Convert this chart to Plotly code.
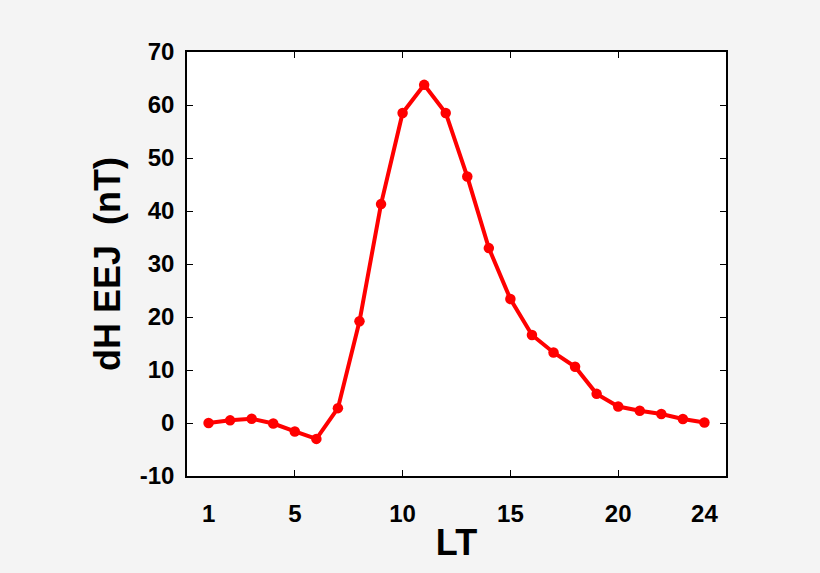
import plotly.graph_objects as go

# local time (hours) and EEJ strength dH (nT)
lt = list(range(1, 25))
dh = [0.0, 0.5, 0.8, -0.1, -1.6, -3.0, 2.8, 19.2, 41.3, 58.5, 63.8, 58.5,
      46.5, 33.0, 23.4, 16.6, 13.3, 10.6, 5.5, 3.1, 2.3, 1.7, 0.75, 0.1]

x_tickvals = [1, 5, 10, 15, 20, 24]
x_tickmarks = [5, 10, 15, 20]
y_tickvals = [-10, 0, 10, 20, 30, 40, 50, 60, 70]
y_ticktext = ["-10", "0", "10", "20", "30", "40", "50", "60", "70"]

font_family = "Liberation Sans, Arial, sans-serif"

fig = go.Figure()
fig.add_trace(go.Scatter(
    x=lt, y=dh, mode="lines+markers",
    line=dict(color="#ff0000", width=4),
    marker=dict(color="#ff0000", size=10.5),
))

fig.update_layout(
    width=820, height=573,
    paper_bgcolor="#f4f4f4",
    plot_bgcolor="white",
    showlegend=False,
    margin=dict(l=187, r=94, t=52, b=97),
    font=dict(family=font_family, color="black"),
)
fig.update_xaxes(
    range=[0, 25],
    tickmode="array", tickvals=x_tickvals, ticks="",
    minor=dict(tickmode="array", tickvals=x_tickmarks, ticks="inside",
               ticklen=6, tickwidth=1.2, tickcolor="black", showgrid=False),
    tickfont=dict(size=24, family=font_family, weight="bold"),
    ticklabelstandoff=15,
    showgrid=False, zeroline=False,
    showline=True, linecolor="black", linewidth=1.5, mirror="ticks",
    title=dict(text="LT", font=dict(size=36, weight="bold"), standoff=4),
)
fig.update_yaxes(
    range=[-10, 70],
    tickmode="array", tickvals=y_tickvals, ticktext=y_ticktext,
    ticks="inside", ticklen=6, tickwidth=1.2, tickcolor="black",
    tickfont=dict(size=24, family=font_family, weight="bold"),
    ticklabelstandoff=6,
    showgrid=False, zeroline=False,
    showline=True, linecolor="black", linewidth=1.5, mirror="ticks",
    title=dict(text="dH EEJ  (nT)", font=dict(size=36, weight="bold"), standoff=8),
)

fig.write_html("out.html", config={"displayModeBar": False},
               post_script="document.body.style.margin='0';")
